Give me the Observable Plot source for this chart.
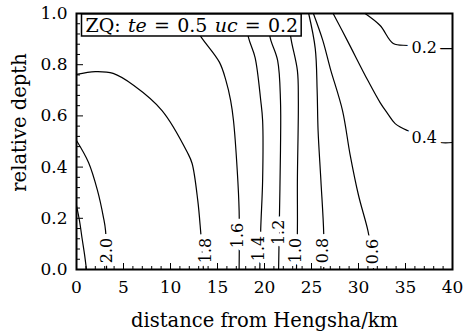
<!DOCTYPE html>
<html><head><meta charset="utf-8">
<script src="https://cdn.jsdelivr.net/npm/d3@7"></script>
<script src="https://cdn.jsdelivr.net/npm/@observablehq/plot@0.6"></script>
<style>
body{margin:0;background:#fff}
#chart svg{font-family:"DejaVu Serif",serif}
</style>
</head><body><div id="chart"></div>
<script>
// ---- data ----
const xTicks = [0,5,10,15,20,25,30,35,40];
const yTicks = [0,0.2,0.4,0.6,0.8,1.0];
const xMinorTicks = [1,2,3,4,6,7,8,9,11,12,13,14,16,17,18,19,21,22,23,24,26,27,28,29,31,32,33,34,36,37,38,39];
const yMinorTicks = [0.04,0.08,0.12,0.16,0.24,0.28,0.32,0.36,0.44,0.48,0.52,0.56,0.64,0.68,0.72,0.76,0.84,0.88,0.92,0.96];

const c22 = [[0,0.25],[0.32,0.19],[0.6,0.12],[0.85,0.06],[1.06,0]];
const c20 = [[0,0.504],[1.28,0.418],[2.23,0.309],[2.87,0.203],[3.09,0.152],[3.2,0]];
const c18 = [[0,0.762],[2.0,0.773],[3.9,0.766],[6.1,0.719],[9.1,0.621],[11.8,0.457],[12.3,0.414],[12.9,0.27],[13.2,0.152],[13.5,0]];
const c16 = [[11.6,1.0],[13.3,0.906],[15.2,0.81],[15.9,0.738],[16.4,0.66],[16.7,0.582],[17.1,0.387],[17.3,0.23],[17.3,0]];
const c14 = [[17.9,1.0],[18.3,0.906],[19.0,0.828],[19.6,0.66],[19.8,0.582],[19.8,0.348],[19.6,0.16],[19.5,0]];
const c12 = [[20.3,1.0],[20.6,0.906],[21.4,0.816],[21.7,0.66],[21.7,0.465],[21.6,0.23],[21.5,0]];
const c10 = [[22.55,1.0],[22.8,0.906],[23.5,0.777],[23.6,0.66],[23.5,0.348],[23.5,0.152],[23.4,0]];
const c08 = [[24.7,1.0],[25.4,0.863],[25.6,0.699],[25.7,0.543],[26.0,0.348],[26.3,0.141],[26.3,0]];
const c06 = [[25.2,1.0],[26.2,0.895],[27.0,0.785],[28.3,0.621],[29.1,0.45],[30.0,0.29],[31.0,0.152],[31.4,0.07],[31.6,0]];
const c04 = [[27.3,1.0],[28.8,0.895],[31.0,0.738],[32.3,0.652],[33.1,0.609],[33.9,0.57],[35.2,0.543],[37.0,0.52],[38.7,0.496],[40,0.496]];
const c02 = [[30.7,1.0],[32.3,0.953],[33.7,0.883],[35.3,0.875],[37.0,0.866],[38.7,0.863],[40,0.863]];

const bottomLabels = ["2.0","1.8","1.6","1.4","1.2","1.0","0.8","0.6"];
const bottomLabelX = [3.2,13.8,17.2,19.4,21.5,23.3,26.2,31.5];
const bottomLabelY = [0.074,0.074,0.133,0.082,0.145,0.074,0.074,0.07];
const sideLabels = ["0.2","0.4"];
const sideLabelX = [37.0,37.0];
const sideLabelY = [0.866,0.516];

const annotation = "ZQ: te = 0.5 uc = 0.2";
const xLabel = "distance from Hengsha/km";
const yLabel = "relative depth";

// ---- build tables ----
const contours = [["2.2",c22],["2.0",c20],["1.8",c18],["1.6",c16],["1.4",c14],["1.2",c12],["1.0",c10],["0.8",c08],["0.6",c06],["0.4",c04],["0.2",c02]];
const rows = contours.flatMap(([level, pts]) => pts.map(([x,y]) => ({level, x, y})));
const bLab = bottomLabels.map((t,i) => ({t, x: bottomLabelX[i], y: bottomLabelY[i]}));
const sLab = sideLabels.map((t,i) => ({t, x: sideLabelX[i], y: sideLabelY[i]}));

const W = 465, H = 335, mL = 76, mR = 13, mT = 13, mB = 66;
const fw = W - mL - mR, fh = H - mT - mB;

const plot = Plot.plot({
  width: W, height: H,
  marginLeft: mL, marginRight: mR, marginTop: mT, marginBottom: mB,
  style: {fontFamily: "DejaVu Serif, serif", fontSize: "17px", background: "white", color: "black"},
  x: {domain: [0,40]},
  y: {domain: [0,1]},
  marks: [
    Plot.line(rows, {x: "x", y: "y", z: "level", stroke: "black", strokeWidth: 1.2, curve: "catmull-rom"}),
    // halo then labels
    Plot.text(bLab, {x: "x", y: "y", text: "t", rotate: -90, fontSize: 16, fill: "white", stroke: "white", strokeWidth: 10, strokeLinejoin: "round"}),
    Plot.text(bLab, {x: "x", y: "y", text: "t", rotate: -90, fontSize: 16, fill: "black"}),
    Plot.text(sLab, {x: "x", y: "y", text: "t", fontSize: 16, fill: "white", stroke: "white", strokeWidth: 10, strokeLinejoin: "round"}),
    Plot.text(sLab, {x: "x", y: "y", text: "t", fontSize: 16, fill: "black"}),
    // inner ticks
    Plot.tickX(xMinorTicks, {x: d => d, insetTop: fh - 3, stroke: "black", strokeWidth: 1}),
    Plot.tickX(xTicks, {x: d => d, insetTop: fh - 6, stroke: "black", strokeWidth: 1}),
    Plot.tickY(yMinorTicks, {y: d => d, insetRight: fw - 4, stroke: "black", strokeWidth: 1}),
    Plot.tickY(yTicks, {y: d => d, insetRight: fw - 7, stroke: "black", strokeWidth: 1}),
    Plot.frame({stroke: "black", strokeWidth: 2}),
    Plot.axisX({ticks: xTicks, tickSize: 0, tickPadding: 11, tickFormat: d => String(d), label: null, fontSize: 17}),
    Plot.axisY({ticks: yTicks, tickSize: 0, tickPadding: 9, tickFormat: d3.format(".1f"), label: null, fontSize: 17}),
    Plot.text([xLabel], {text: d => d, frameAnchor: "bottom", dy: 51, lineAnchor: "middle", textAnchor: "middle", fontSize: 19.5}),
    Plot.text([yLabel], {text: d => d, frameAnchor: "left", rotate: -90, dx: -57, dy: -19, lineAnchor: "middle", textAnchor: "middle", fontSize: 19.5}),
    Plot.text([annotation], {text: d => d, frameAnchor: "top-left", dx: 9, dy: 5, lineAnchor: "top", textAnchor: "start", fontSize: 19})
  ]
});
document.getElementById("chart").append(plot);

// rich text + white box for the annotation
const ns = "http://www.w3.org/2000/svg";
const t = Array.from(plot.querySelectorAll("text")).find(e => e.textContent === annotation);
if (t) {
  t.textContent = "";
  t.setAttribute("style", "white-space:pre;word-spacing:1.2px");
  const parts = [["ZQ: ", false], ["te", true], [" = 0.5 ", false], ["uc", true], [" = 0.2", false]];
  for (const [s, it] of parts) {
    const ts = document.createElementNS(ns, "tspan");
    ts.textContent = s;
    if (it) ts.setAttribute("font-style", "italic");
    t.append(ts);
  }
  const bb = t.getBBox();
  const r = document.createElementNS(ns, "rect");
  r.setAttribute("x", bb.x - 4);
  r.setAttribute("y", bb.y);
  r.setAttribute("width", bb.width + 7);
  r.setAttribute("height", bb.height);
  r.setAttribute("fill", "white");
  r.setAttribute("stroke", "black");
  r.setAttribute("stroke-width", 1.5);
  if (t.getAttribute("transform")) r.setAttribute("transform", t.getAttribute("transform"));
  t.parentNode.insertBefore(r, t);
}
</script>
</body></html>
